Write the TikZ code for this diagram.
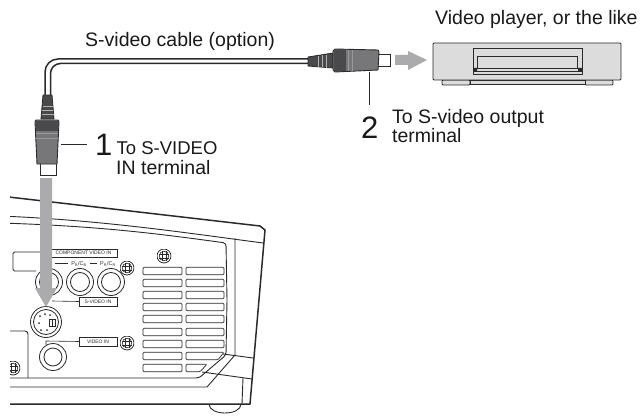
\documentclass[tikz,border=0pt]{standalone}
\usepackage{fontspec}
\setmainfont{Liberation Sans}
\usetikzlibrary{calc}
\definecolor{ink}{HTML}{2A2A2A}
\definecolor{plug}{HTML}{77777A}
\definecolor{plugdark}{HTML}{4A4A4C}
\definecolor{arrowgray}{HTML}{ABABAE}
\definecolor{playerfill}{HTML}{DCDCDC}
\tikzset{
  x=1pt,y=-1pt,
  thick line/.style={draw=ink,line width=1.5pt},
  mid line/.style={draw=ink,line width=0.9pt},
  thin line/.style={draw=ink,line width=0.6pt},
  label text/.style={inner sep=0pt,anchor=base west,font=\fontsize{19.5}{22}\selectfont,text=black!90},
  big num/.style={inner sep=0pt,anchor=base west,font=\fontsize{31}{31}\selectfont,text=black!90},
  tiny box/.style={draw=ink,line width=0.5pt,fill=white,inner sep=0pt,minimum height=8.5pt,font=\fontsize{5}{5}\selectfont,text=ink},
  slot/.style={draw=ink,line width=0.7pt,fill=white,rounded corners=1pt},
  jack/.style={draw=ink,line width=0.8pt,fill=white,circle,inner sep=0pt},
}
\newcommand{\screw}[2]{%
  \begin{scope}
  \clip (#1-7,#2-7) rectangle (#1+7,#2+7);
  \fill[white] (#1,#2) circle (7);
  \draw[ink,line width=0.8pt] (#1,#2) circle (7);
  \draw[ink,line width=0.6pt] (#1,#2) circle (4.8);
  \draw[ink,line width=0.6pt] (#1-2,#2-5)--(#1-2,#2+5) (#1+2,#2-5)--(#1+2,#2+5) (#1-5,#2-2)--(#1+5,#2-2) (#1-5,#2+2)--(#1+5,#2+2);
  \end{scope}}
\begin{document}
\begin{tikzpicture}
\useasboundingbox (0,0) rectangle (640,420);
% projector
\begin{scope}
\clip (10,190) rectangle (640,420);
\draw[thick line,line join=round] (0,196) -- (260,226) -- (265,230) -- (250,404) -- (0,404);
\draw[mid line] (0,216) .. controls (100,220) and (180,232) .. (263,243);
\draw[mid line,rounded corners=3pt] (0,223) .. controls (100,226) and (160,234) .. (226,243) -- (227,300) -- (226,355) -- (199,378) -- (0,378);
\draw[mid line] (0,387) -- (207,387) -- (235,355) -- (235,238);
\draw[mid line] (223,354) -- (253,358);
\draw[mid line] (202,372) -- (252,379);
\draw[mid line] (243,378) -- (242,404);
\draw[mid line] (209,404) .. controls (209,416) and (241,416) .. (241,404);
\draw[mid line,rounded corners=3pt] (0,331) -- (28,331) -- (28,378);
\screw{13}{368}
\end{scope}
% vents
\foreach \y in {271,283,295,307,319,332,344}{
  \draw[slot] (143,\y-3.7) rectangle (182,\y+3.7);
  \draw[slot] (186,\y-3.7) rectangle (224,\y+3.7);
}
\foreach \y in {356,368}{
  \draw[slot] (143,\y-3.7) rectangle (182,\y+3.7);
}
\draw[slot] (186,352.3) -- (224,352.3) -- (218,359.7) -- (186,359.7) -- cycle;
\draw[slot] (186,364.3) -- (207,364.3) -- (200,371.7) -- (186,371.7) -- cycle;
% panel
\draw[mid line,rounded corners=1.5pt] (50,252) -- (13,252) -- (13,271) -- (36,271);
\node[tiny box,minimum width=67pt] (compbox) at (83.5,253) {COMPONENT VIDEO IN};
\draw[thin line] (55,263) -- (68,263) (90,263) -- (97,263);
\node[inner sep=0pt,font=\fontsize{5.5}{6}\selectfont,text=ink] (pb) at (79,264) {P\textsubscript{B}/C\textsubscript{B}};
\node[inner sep=0pt,font=\fontsize{5.5}{6}\selectfont,text=ink] (pr) at (108,264) {P\textsubscript{R}/C\textsubscript{R}};
\foreach \n/\x in {ja/49,jb/80,jc/111}{
  \node[jack,minimum size=27pt] (\n) at (\x,282) {};
  \node[jack,minimum size=19pt] at (\x,282) {};
}
\screw{127}{268}
\screw{164}{256}
\screw{127}{343}
\node[tiny box,minimum width=38pt] (svbox) at (98,301.5) {S-VIDEO IN};
\draw[thin line] (52,301) -- (svbox.west);
\node[jack,minimum size=31pt] (sjack) at (46,322) {};
\node[jack,minimum size=25pt] at (46,322) {};
\foreach \a/\b in {40/316,45/314,50/315,39/323,41/330,47/330}{\fill[ink] (\a,\b) circle (1);}
\draw[ink,line width=0.6pt] (49,319) rectangle (55,326);
\draw[ink,line width=0.6pt] (52,319) -- (52,326);
\node[jack,minimum size=27pt] (vjack) at (53,357) {};
\node[jack,minimum size=18pt] at (53,357) {};
\node[tiny box,minimum width=38pt] (vbox) at (98,341.5) {VIDEO IN};
\draw[thin line] (46,345) -- (46,341) -- (vbox.west);
% gray arrow down
\fill[arrowgray] (40,178) -- (52,178) -- (52,288) -- (57,288) -- (46,307) -- (35,288) -- (40,288) -- cycle;
% cable
\draw[ink,line width=1.5pt,rounded corners=13pt] (45,96) -- (45,59) -- (310,59);
\draw[ink,line width=1.5pt,rounded corners=10pt] (50.5,96) -- (50.5,63.5) -- (310,63.5);
% vertical plug
\draw[ink,line width=0.8pt,fill=white] (40,163) rectangle (56,175);
\draw[ink,line width=0.8pt,fill=plugdark] (43,95) -- (52,95) -- (54,119) -- (41,119) -- cycle;
\draw[white!70!black,line width=0.8pt] (42.5,106) -- (52.5,106) (42,110) -- (53,110) (42,114) -- (53.5,114);
\draw[ink,line width=0.9pt,fill=plug] (36,120) -- (58,120) -- (59,122) -- (57,164) -- (37,164) -- (35,122) -- cycle;
\fill[plugdark] (36,121) rectangle (58,131);
\draw[white!60!black,line width=0.7pt] (36,133) -- (58,133) (36,138) -- (58,138);
\coordinate (plugA) at (61,144);
\coordinate (numA) at (87,144);
\draw[mid line] (plugA) -- (numA);
% horizontal plug
\draw[ink,line width=0.8pt,fill=white] (376,54) rectangle (390,66);
\draw[ink,line width=0.8pt,fill=plugdark] (308,57) -- (333,53) -- (333,68) -- (308,66) -- cycle;
\draw[white!70!black,line width=0.8pt] (318,56) -- (318,67) (322,55.5) -- (322,67.5) (326,55) -- (326,68);
\draw[ink,line width=0.9pt,fill=plug] (335,49) -- (378,50) -- (379,52) -- (378,70) -- (335,72) -- (333,70) -- (333,51) -- cycle;
\fill[plugdark] (334,50) rectangle (346,71);
\draw[white!60!black,line width=0.7pt] (348,50) -- (348,71) (352,50) -- (352,71);
% gray arrow right
\fill[arrowgray] (395,55) -- (408,55) -- (408,51) -- (427,60) -- (408,70) -- (408,65) -- (395,65) -- cycle;
% player
\draw[mid line,fill=playerfill,rounded corners=1pt] (442,80) rectangle (470,85);
\draw[mid line,fill=playerfill,rounded corners=1pt] (585,80) rectangle (613,85);
\draw[thin line,fill=playerfill] (470,80) rectangle (585,84);
\draw[mid line,fill=playerfill,rounded corners=1pt] (433,43) rectangle (621,80);
\draw[thin line,fill=playerfill] (473,48) rectangle (582,74);
\draw[mid line] (477,68) -- (477,56) -- (577,56) -- (577,68);
\draw[thin line] (473,68) -- (582,68) (473,71) -- (582,71);
\fill[ink] (473,68) rectangle (477,71) (578,68) rectangle (582,71);
\coordinate (plugB) at (369,72);
\coordinate (numB) at (369,105);
\draw[mid line] (plugB) -- (numB);
% texts
\node[label text] (cablelbl) at (85,47) {S-video cable (option)};
\node[label text] (playerlbl) at (435,25) {Video player, or the like};
\node[big num] (num1) at (95,155) {1};
\node[label text,font=\fontsize{18.5}{22}\selectfont] (t1) at (116.5,154) {To S-VIDEO};
\node[label text] (t1b) at (116,174) {IN terminal};
\node[big num] (num2) at (361,138) {2};
\node[label text] (t2) at (392,123) {To S-video output};
\node[label text] (t2b) at (392,142) {terminal};
\end{tikzpicture}
\end{document}
